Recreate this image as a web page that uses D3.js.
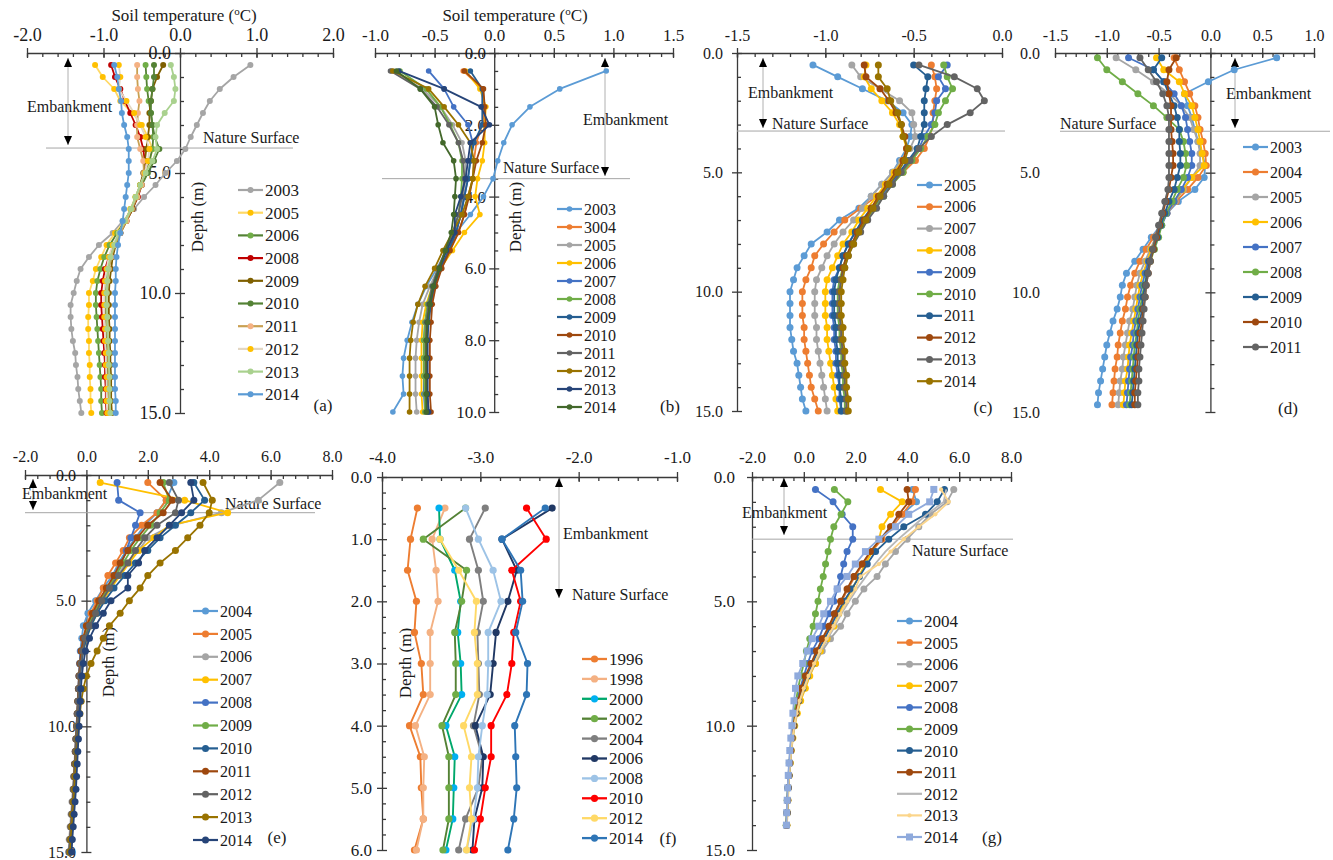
<!DOCTYPE html>
<html>
<head>
<meta charset="utf-8">
<script src="https://cdn.jsdelivr.net/npm/d3@7"></script>
<style>
  body { margin: 0; background: #fff; }
  svg { display: block; font-family: "Liberation Serif", "Times New Roman", serif; }
</style>
</head>
<body>
<div id="chart"></div>
<script>
// ---- data: depth (m) and soil temperature (oC) per year ----

// (a)
var depthA = [0.5,1,1.5,2,2.5,3,3.5,4,4.5,5,5.5,6,6.5,7,7.5,8,8.5,9,9.5,10,10.5,11,11.5,12,12.5,13,13.5,14,14.5,15];
var yearsA = ["2003","2005","2006","2008","2009","2010","2011","2012","2013","2014"];
var tempA = [
  [0.92,0.70,0.52,0.39,0.30,0.22,0.14,0.07,-0.04,-0.19,-0.32,-0.47,-0.60,-0.75,-0.88,-1.06,-1.19,-1.30,-1.35,-1.39,-1.43,-1.43,-1.42,-1.40,-1.37,-1.36,-1.34,-1.33,-1.31,-1.29],
  [-1.11,-1.01,-0.86,-0.78,-0.62,-0.50,-0.42,-0.36,-0.40,-0.45,-0.52,-0.58,-0.65,-0.72,-0.85,-0.96,-1.03,-1.10,-1.14,-1.19,-1.19,-1.20,-1.20,-1.19,-1.19,-1.18,-1.18,-1.17,-1.17,-1.16],
  [-0.45,-0.44,-0.43,-0.41,-0.38,-0.36,-0.35,-0.36,-0.40,-0.47,-0.52,-0.58,-0.64,-0.72,-0.82,-0.92,-0.99,-1.04,-1.08,-1.10,-1.10,-1.09,-1.08,-1.07,-1.06,-1.05,-1.04,-1.03,-1.03,-1.02],
  [-0.90,-0.85,-0.78,-0.72,-0.65,-0.58,-0.52,-0.48,-0.46,-0.47,-0.50,-0.55,-0.62,-0.70,-0.78,-0.86,-0.93,-0.98,-1.01,-1.03,-1.03,-1.02,-1.01,-1.00,-0.99,-0.98,-0.98,-0.97,-0.97,-0.96],
  [-0.22,-0.30,-0.36,-0.38,-0.40,-0.40,-0.42,-0.44,-0.46,-0.48,-0.52,-0.56,-0.62,-0.70,-0.78,-0.84,-0.88,-0.90,-0.92,-0.93,-0.93,-0.93,-0.92,-0.92,-0.91,-0.91,-0.90,-0.90,-0.90,-0.89],
  [-0.34,-0.34,-0.36,-0.38,-0.38,-0.36,-0.33,-0.27,-0.34,-0.42,-0.50,-0.56,-0.63,-0.71,-0.78,-0.85,-0.90,-0.94,-0.96,-0.97,-0.97,-0.97,-0.96,-0.96,-0.95,-0.95,-0.94,-0.94,-0.93,-0.93],
  [-0.56,-0.56,-0.55,-0.53,-0.55,-0.56,-0.56,-0.52,-0.48,-0.47,-0.50,-0.56,-0.63,-0.70,-0.78,-0.85,-0.90,-0.93,-0.95,-0.96,-0.96,-0.96,-0.95,-0.95,-0.94,-0.94,-0.93,-0.93,-0.93,-0.92],
  [-0.80,-0.78,-0.80,-0.70,-0.60,-0.52,-0.45,-0.40,-0.42,-0.46,-0.52,-0.58,-0.64,-0.72,-0.80,-0.88,-0.93,-0.96,-0.98,-0.99,-0.99,-0.99,-0.98,-0.98,-0.97,-0.97,-0.96,-0.96,-0.96,-0.95],
  [-0.12,-0.08,-0.06,-0.08,-0.20,-0.30,-0.32,-0.30,-0.36,-0.45,-0.52,-0.58,-0.64,-0.72,-0.80,-0.86,-0.91,-0.94,-0.95,-0.96,-0.96,-0.95,-0.95,-0.94,-0.93,-0.93,-0.92,-0.92,-0.92,-0.91],
  [-0.86,-0.82,-0.80,-0.77,-0.76,-0.73,-0.69,-0.67,-0.67,-0.67,-0.69,-0.71,-0.73,-0.75,-0.78,-0.81,-0.83,-0.84,-0.84,-0.85,-0.85,-0.85,-0.85,-0.85,-0.85,-0.85,-0.85,-0.85,-0.84,-0.84]
];

// (b)
var depthB = [0.5,1,1.5,2,2.5,3,3.5,4,4.5,5,5.5,6,6.5,7,7.5,8,8.5,9,9.5,10];
var yearsB = ["2003","3004","2005","2006","2007","2008","2009","2010","2011","2012","2013","2014"];
var tempB = [
  [0.94,0.55,0.30,0.15,0.08,0.03,-0.01,-0.09,-0.20,-0.32,-0.40,-0.48,-0.57,-0.64,-0.69,-0.73,-0.76,-0.77,-0.76,-0.85],
  [-0.26,-0.10,-0.08,-0.10,-0.15,-0.17,-0.18,-0.22,-0.25,-0.30,-0.38,-0.45,-0.50,-0.54,-0.57,-0.58,-0.58,-0.58,-0.58,-0.57],
  [-0.86,-0.60,-0.45,-0.35,-0.27,-0.24,-0.24,-0.26,-0.28,-0.32,-0.40,-0.47,-0.54,-0.60,-0.63,-0.65,-0.66,-0.66,-0.66,-0.65],
  [-0.24,-0.12,-0.07,-0.08,-0.08,-0.10,-0.14,-0.16,-0.12,-0.25,-0.35,-0.45,-0.52,-0.57,-0.60,-0.61,-0.61,-0.61,-0.61,-0.60],
  [-0.55,-0.42,-0.34,-0.22,-0.18,-0.20,-0.22,-0.25,-0.28,-0.32,-0.38,-0.45,-0.51,-0.55,-0.58,-0.59,-0.59,-0.59,-0.59,-0.58],
  [-0.79,-0.57,-0.45,-0.37,-0.30,-0.27,-0.27,-0.28,-0.30,-0.34,-0.40,-0.47,-0.52,-0.56,-0.58,-0.59,-0.59,-0.59,-0.58,-0.58],
  [-0.20,-0.10,-0.10,-0.10,-0.17,-0.20,-0.22,-0.25,-0.28,-0.32,-0.38,-0.45,-0.50,-0.53,-0.55,-0.56,-0.56,-0.56,-0.56,-0.55],
  [-0.25,-0.09,-0.08,-0.07,-0.10,-0.15,-0.18,-0.21,-0.25,-0.30,-0.37,-0.44,-0.49,-0.52,-0.53,-0.54,-0.54,-0.54,-0.54,-0.53],
  [-0.87,-0.62,-0.48,-0.38,-0.30,-0.26,-0.25,-0.27,-0.30,-0.35,-0.41,-0.47,-0.52,-0.55,-0.57,-0.57,-0.57,-0.57,-0.57,-0.56],
  [-0.85,-0.55,-0.42,-0.30,-0.20,-0.17,-0.18,-0.22,-0.27,-0.35,-0.43,-0.50,-0.58,-0.64,-0.68,-0.70,-0.71,-0.71,-0.71,-0.71],
  [-0.80,-0.42,-0.11,-0.04,-0.20,-0.22,-0.24,-0.28,-0.33,-0.33,-0.40,-0.46,-0.51,-0.54,-0.56,-0.56,-0.56,-0.56,-0.56,-0.55],
  [-0.82,-0.62,-0.50,-0.47,-0.43,-0.34,-0.32,-0.33,-0.34,-0.36,-0.41,-0.46,-0.51,-0.54,-0.56,-0.57,-0.57,-0.57,-0.57,-0.57]
];

// (c)
var depthC = [0.5,1,1.5,2,2.5,3,3.5,4,4.5,5,5.5,6,6.5,7,7.5,8,8.5,9,9.5,10,10.5,11,11.5,12,12.5,13,13.5,14,14.5,15];
var yearsC = ["2005","2006","2007","2008","2009","2010","2011","2012","2013","2014"];
var tempC = [
  [-1.07,-0.93,-0.79,-0.65,-0.56,-0.51,-0.52,-0.54,-0.58,-0.62,-0.68,-0.74,-0.81,-0.92,-0.99,-1.08,-1.12,-1.16,-1.18,-1.20,-1.20,-1.20,-1.20,-1.19,-1.18,-1.16,-1.15,-1.14,-1.13,-1.11],
  [-0.40,-0.38,-0.37,-0.38,-0.39,-0.39,-0.41,-0.44,-0.49,-0.56,-0.63,-0.71,-0.80,-0.89,-0.95,-1.01,-1.06,-1.08,-1.11,-1.13,-1.13,-1.13,-1.12,-1.12,-1.11,-1.10,-1.09,-1.08,-1.06,-1.04],
  [-0.85,-0.80,-0.69,-0.58,-0.51,-0.50,-0.49,-0.52,-0.57,-0.62,-0.68,-0.74,-0.79,-0.84,-0.90,-0.95,-0.99,-1.02,-1.05,-1.06,-1.06,-1.06,-1.05,-1.05,-1.04,-1.03,-1.02,-1.01,-1.00,-0.99],
  [-0.77,-0.78,-0.74,-0.68,-0.62,-0.58,-0.56,-0.54,-0.56,-0.61,-0.66,-0.71,-0.76,-0.81,-0.85,-0.90,-0.93,-0.96,-0.99,-1.00,-1.00,-1.00,-0.99,-0.99,-0.98,-0.97,-0.96,-0.95,-0.94,-0.93],
  [-0.31,-0.36,-0.32,-0.37,-0.38,-0.40,-0.44,-0.47,-0.52,-0.57,-0.63,-0.68,-0.73,-0.78,-0.83,-0.87,-0.90,-0.92,-0.95,-0.96,-0.96,-0.96,-0.95,-0.95,-0.94,-0.94,-0.93,-0.92,-0.92,-0.91],
  [-0.33,-0.31,-0.28,-0.32,-0.36,-0.38,-0.42,-0.46,-0.51,-0.56,-0.62,-0.67,-0.72,-0.77,-0.81,-0.85,-0.88,-0.90,-0.92,-0.93,-0.93,-0.93,-0.92,-0.92,-0.91,-0.91,-0.90,-0.90,-0.89,-0.89],
  [-0.50,-0.42,-0.43,-0.44,-0.44,-0.44,-0.46,-0.48,-0.53,-0.58,-0.64,-0.69,-0.74,-0.79,-0.83,-0.87,-0.90,-0.92,-0.94,-0.95,-0.95,-0.95,-0.94,-0.94,-0.93,-0.93,-0.92,-0.92,-0.91,-0.91],
  [-0.78,-0.77,-0.69,-0.64,-0.60,-0.57,-0.55,-0.54,-0.56,-0.60,-0.65,-0.70,-0.74,-0.78,-0.82,-0.85,-0.88,-0.90,-0.91,-0.92,-0.92,-0.92,-0.91,-0.91,-0.90,-0.90,-0.89,-0.89,-0.88,-0.88],
  [-0.47,-0.27,-0.14,-0.10,-0.18,-0.31,-0.40,-0.47,-0.52,-0.57,-0.62,-0.67,-0.71,-0.76,-0.80,-0.84,-0.87,-0.89,-0.91,-0.92,-0.92,-0.92,-0.91,-0.91,-0.90,-0.90,-0.89,-0.89,-0.88,-0.88],
  [-0.70,-0.70,-0.65,-0.63,-0.59,-0.57,-0.56,-0.53,-0.55,-0.59,-0.64,-0.69,-0.73,-0.77,-0.81,-0.84,-0.87,-0.89,-0.90,-0.91,-0.91,-0.91,-0.90,-0.90,-0.89,-0.89,-0.88,-0.88,-0.87,-0.87]
];

// (d)
var depthD = [0.2,0.7,1.2,1.7,2.2,2.7,3.2,3.7,4.2,4.7,5.2,5.7,6.2,6.7,7.2,7.7,8.2,8.7,9.2,9.7,10.2,10.7,11.2,11.7,12.2,12.7,13.2,13.7,14.2,14.7];
var yearsD = ["2003","2004","2005","2006","2007","2008","2009","2010","2011"];
var tempD = [
  [0.64,0.23,-0.02,-0.25,-0.22,-0.18,-0.15,-0.12,-0.08,-0.05,-0.06,-0.15,-0.31,-0.42,-0.48,-0.57,-0.65,-0.73,-0.81,-0.85,-0.87,-0.90,-0.94,-0.97,-1.00,-1.02,-1.04,-1.06,-1.08,-1.09],
  [-0.35,-0.30,-0.25,-0.20,-0.15,-0.12,-0.10,-0.07,-0.05,-0.04,-0.12,-0.22,-0.33,-0.42,-0.48,-0.55,-0.62,-0.68,-0.73,-0.77,-0.80,-0.82,-0.85,-0.87,-0.89,-0.90,-0.92,-0.93,-0.94,-0.95],
  [-0.91,-0.72,-0.55,-0.40,-0.28,-0.20,-0.16,-0.12,-0.10,-0.10,-0.18,-0.26,-0.34,-0.42,-0.48,-0.53,-0.58,-0.63,-0.68,-0.71,-0.73,-0.75,-0.78,-0.80,-0.82,-0.84,-0.85,-0.87,-0.88,-0.89],
  [-0.52,-0.45,-0.30,-0.25,-0.18,-0.15,-0.12,-0.10,-0.08,-0.06,-0.18,-0.27,-0.35,-0.43,-0.48,-0.52,-0.57,-0.61,-0.65,-0.68,-0.70,-0.72,-0.74,-0.76,-0.78,-0.79,-0.80,-0.82,-0.83,-0.84],
  [-0.79,-0.55,-0.45,-0.35,-0.28,-0.24,-0.22,-0.20,-0.18,-0.18,-0.22,-0.28,-0.35,-0.42,-0.47,-0.51,-0.55,-0.60,-0.63,-0.66,-0.68,-0.70,-0.72,-0.74,-0.75,-0.77,-0.78,-0.79,-0.80,-0.81],
  [-1.09,-1.00,-0.85,-0.70,-0.55,-0.42,-0.30,-0.26,-0.24,-0.23,-0.26,-0.32,-0.37,-0.43,-0.47,-0.50,-0.54,-0.58,-0.61,-0.64,-0.66,-0.68,-0.70,-0.71,-0.73,-0.74,-0.75,-0.76,-0.77,-0.78],
  [-0.47,-0.55,-0.45,-0.40,-0.35,-0.32,-0.30,-0.30,-0.29,-0.29,-0.32,-0.35,-0.40,-0.44,-0.48,-0.51,-0.55,-0.59,-0.61,-0.63,-0.65,-0.66,-0.68,-0.70,-0.71,-0.72,-0.73,-0.74,-0.75,-0.76],
  [-0.33,-0.40,-0.42,-0.40,-0.38,-0.38,-0.38,-0.37,-0.36,-0.36,-0.38,-0.40,-0.43,-0.46,-0.49,-0.52,-0.55,-0.58,-0.60,-0.62,-0.63,-0.65,-0.66,-0.68,-0.69,-0.70,-0.71,-0.72,-0.73,-0.73],
  [-0.68,-0.60,-0.52,-0.46,-0.42,-0.40,-0.40,-0.40,-0.40,-0.40,-0.40,-0.41,-0.44,-0.47,-0.50,-0.53,-0.56,-0.58,-0.60,-0.62,-0.63,-0.64,-0.65,-0.66,-0.67,-0.68,-0.69,-0.69,-0.70,-0.70]
];

// (e)
var depthE = [0.3,1,1.5,2,2.5,3,3.5,4,4.5,5,5.5,6,6.5,7,7.5,8,8.5,9,9.5,10,10.5,11,11.5,12,12.5,13,13.5,14,14.5,15];
var yearsE = ["2004","2005","2006","2007","2008","2009","2010","2011","2012","2013","2014"];
var tempE = [
  [2.85,2.60,2.30,1.90,1.60,1.30,1.05,0.85,0.55,0.30,0.05,-0.10,-0.15,-0.20,-0.22,-0.24,-0.26,-0.27,-0.28,-0.30,-0.32,-0.34,-0.36,-0.38,-0.40,-0.42,-0.45,-0.48,-0.50,-0.53],
  [2.00,2.60,2.30,1.80,1.40,1.20,0.95,0.70,0.55,0.35,0.15,0.00,-0.10,-0.16,-0.20,-0.23,-0.25,-0.26,-0.28,-0.30,-0.32,-0.34,-0.36,-0.38,-0.40,-0.42,-0.45,-0.48,-0.51,-0.54],
  [6.30,5.60,4.40,2.80,2.00,1.70,1.30,1.00,0.75,0.50,0.30,0.10,-0.05,-0.15,-0.20,-0.24,-0.26,-0.28,-0.30,-0.32,-0.35,-0.37,-0.39,-0.42,-0.44,-0.47,-0.50,-0.53,-0.56,-0.58],
  [0.45,3.20,4.60,2.70,2.20,1.70,1.40,1.10,0.80,0.55,0.35,0.15,0.00,-0.10,-0.18,-0.22,-0.25,-0.27,-0.29,-0.31,-0.33,-0.35,-0.37,-0.39,-0.41,-0.43,-0.46,-0.49,-0.52,-0.55],
  [1.00,1.05,1.75,1.60,1.45,1.30,1.15,0.95,0.75,0.50,0.25,0.05,-0.10,-0.18,-0.22,-0.24,-0.26,-0.28,-0.30,-0.32,-0.34,-0.36,-0.38,-0.40,-0.42,-0.44,-0.47,-0.50,-0.53,-0.56],
  [2.50,2.70,2.40,2.10,1.75,1.45,1.20,0.95,0.70,0.45,0.25,0.05,-0.08,-0.16,-0.20,-0.23,-0.25,-0.27,-0.29,-0.31,-0.33,-0.35,-0.37,-0.39,-0.41,-0.43,-0.46,-0.49,-0.52,-0.55],
  [3.50,3.85,3.40,2.90,2.40,2.00,1.60,1.25,0.90,0.60,0.35,0.15,0.00,-0.10,-0.16,-0.20,-0.23,-0.25,-0.27,-0.29,-0.31,-0.33,-0.35,-0.37,-0.39,-0.41,-0.44,-0.47,-0.50,-0.52],
  [2.40,2.80,2.50,2.00,1.65,1.35,1.10,0.90,0.65,0.40,0.20,0.00,-0.10,-0.17,-0.21,-0.24,-0.26,-0.28,-0.30,-0.32,-0.34,-0.36,-0.38,-0.40,-0.42,-0.44,-0.47,-0.50,-0.53,-0.55],
  [2.70,3.00,2.90,2.30,1.90,1.60,1.35,1.05,0.75,0.50,0.30,0.10,-0.05,-0.12,-0.18,-0.22,-0.25,-0.27,-0.29,-0.31,-0.33,-0.35,-0.37,-0.39,-0.42,-0.44,-0.47,-0.50,-0.53,-0.56],
  [3.80,4.10,4.00,3.70,3.30,2.90,2.40,2.00,1.75,1.40,1.10,0.75,0.55,0.35,0.15,0.00,-0.10,-0.17,-0.21,-0.25,-0.28,-0.31,-0.34,-0.37,-0.39,-0.42,-0.45,-0.48,-0.51,-0.53],
  [3.40,3.50,3.10,2.70,2.30,1.90,1.70,1.35,1.35,0.80,0.55,0.30,0.10,-0.03,-0.10,-0.15,-0.18,-0.20,-0.22,-0.24,-0.26,-0.28,-0.30,-0.32,-0.34,-0.37,-0.40,-0.43,-0.46,-0.48]
];

// (f)
var depthF = [0.5,1,1.5,2,2.5,3,3.5,4,4.5,5,5.5,6];
var yearsF = ["1996","1998","2000","2002","2004","2006","2008","2010","2012","2014"];
var tempF = [
  [-3.64,-3.71,-3.74,-3.65,-3.67,-3.60,-3.58,-3.72,-3.61,-3.60,-3.58,-3.67],
  [-3.36,-3.49,-3.45,-3.43,-3.51,-3.51,-3.51,-3.66,-3.57,-3.58,-3.58,-3.65],
  [-3.42,-3.41,-3.26,-3.20,-3.23,-3.20,-3.19,-3.35,-3.26,-3.27,-3.28,-3.35],
  [-3.15,-3.58,-3.14,-3.19,-3.26,-3.25,-3.25,-3.39,-3.32,-3.32,-3.32,-3.38],
  [-2.95,-3.11,-3.02,-2.97,-3.03,-3.02,-3.01,-3.07,-2.98,-3.02,-3.15,-3.22],
  [-2.27,-2.78,-2.63,-2.72,-2.84,-2.87,-2.90,-3.05,-2.97,-2.98,-3.06,-3.08],
  [-3.15,-3.02,-2.87,-2.79,-2.92,-2.92,-2.93,-2.98,-3.02,-3.03,-3.07,-3.14],
  [-2.53,-2.33,-2.68,-2.59,-2.66,-2.68,-2.73,-2.89,-2.89,-2.95,-3.00,-3.06],
  [null,-3.41,-3.22,-3.04,-3.06,-3.03,-3.03,-3.17,-3.09,-3.11,-3.09,-3.14],
  [-2.34,-2.78,-2.59,-2.57,-2.64,-2.52,-2.53,-2.65,-2.64,-2.63,-2.66,-2.72]
];

// (g)
var depthG = [0.5,1,1.5,2,2.5,3,3.5,4,4.5,5,5.5,6,6.5,7,7.5,8,8.5,9,9.5,10,10.5,11,11.5,12,12.5,13,13.5,14];
var yearsG = ["2004","2005","2006","2007","2008","2009","2010","2011","2012","2013","2014"];
var tempG = [
  [4.20,4.35,3.80,3.35,2.95,2.60,2.25,1.95,1.70,1.45,1.20,1.00,0.75,0.50,0.30,0.10,-0.08,-0.22,-0.32,-0.40,-0.46,-0.51,-0.55,-0.58,-0.61,-0.63,-0.65,-0.67],
  [4.31,4.18,3.80,3.41,3.02,2.62,2.28,1.97,1.70,1.45,1.22,1.00,0.76,0.52,0.32,0.12,-0.06,-0.20,-0.31,-0.39,-0.45,-0.50,-0.54,-0.57,-0.60,-0.62,-0.64,-0.66],
  [5.79,5.53,4.89,4.44,3.99,3.54,3.15,2.83,2.32,1.99,1.67,1.42,1.03,0.71,0.45,0.19,0.00,-0.16,-0.28,-0.37,-0.44,-0.49,-0.53,-0.57,-0.60,-0.62,-0.64,-0.66],
  [2.96,3.80,3.35,3.02,2.90,2.64,2.38,2.12,1.87,1.61,1.35,1.16,0.90,0.64,0.45,0.23,0.06,-0.12,-0.25,-0.35,-0.42,-0.48,-0.52,-0.56,-0.59,-0.61,-0.63,-0.65],
  [0.45,1.13,1.48,1.89,1.89,1.67,1.54,1.42,1.29,1.16,0.97,0.77,0.58,0.32,0.15,0.00,-0.14,-0.26,-0.34,-0.41,-0.47,-0.51,-0.55,-0.58,-0.61,-0.63,-0.65,-0.67],
  [1.18,1.70,1.44,1.16,1.03,0.94,0.84,0.75,0.64,0.55,0.45,0.36,0.23,0.10,0.00,-0.12,-0.22,-0.30,-0.37,-0.43,-0.48,-0.52,-0.56,-0.59,-0.62,-0.64,-0.66,-0.68],
  [5.43,5.15,4.70,3.86,3.28,2.77,2.45,2.15,1.85,1.55,1.28,1.05,0.80,0.55,0.34,0.14,-0.04,-0.19,-0.30,-0.38,-0.45,-0.50,-0.54,-0.57,-0.60,-0.62,-0.64,-0.66],
  [3.99,4.05,3.67,3.35,2.96,2.57,2.25,1.93,1.67,1.42,1.18,0.97,0.71,0.49,0.28,0.06,-0.10,-0.22,-0.32,-0.40,-0.46,-0.51,-0.55,-0.58,-0.61,-0.63,-0.65,-0.67],
  [5.50,5.40,4.76,4.20,3.65,3.15,2.75,2.40,2.05,1.75,1.45,1.20,0.92,0.65,0.42,0.20,0.02,-0.15,-0.27,-0.36,-0.43,-0.49,-0.53,-0.57,-0.60,-0.62,-0.64,-0.66],
  [5.30,5.60,5.08,4.44,3.86,3.35,2.90,2.19,1.99,1.67,1.40,1.15,0.88,0.62,0.40,0.18,0.00,-0.16,-0.28,-0.37,-0.44,-0.49,-0.53,-0.57,-0.60,-0.62,-0.64,-0.66],
  [5.02,4.86,4.05,3.54,2.90,2.38,1.99,1.67,1.29,1.03,0.77,0.58,0.32,0.13,-0.04,-0.23,-0.32,-0.38,-0.42,-0.46,-0.50,-0.54,-0.57,-0.60,-0.62,-0.64,-0.66,-0.67]
];

// ---- drawing ----
var fmt = d3.formatLocale({decimal: ".", thousands: ",", grouping: [3], currency: ["", ""], minus: "-"}).format(".1f");

var svg = d3.select("#chart").append("svg")
  .attr("width", 1333)
  .attr("height", 860);

svg.append("defs").append("marker")
  .attr("id", "tri")
  .attr("viewBox", "0 0 9 8")
  .attr("refX", 9).attr("refY", 4)
  .attr("markerWidth", 9).attr("markerHeight", 8)
  .attr("markerUnits", "userSpaceOnUse")
  .attr("orient", "auto-start-reverse")
  .append("path").attr("d", "M0,0 L9,4 L0,8 Z").attr("fill", "#000");

function steps(a, b, s) {
  var n = Math.round((b - a) / s);
  return d3.range(n + 1).map(function(i) { return +(a + i * s).toFixed(4); });
}

// draw a single mark (circle / square / small / none)
function mark(sel, shape, cx, cy, r, fill) {
  if (shape === "none") return;
  if (shape === "sq") {
    sel.append("rect").attr("x", cx - r).attr("y", cy - r).attr("width", 2 * r).attr("height", 2 * r).attr("fill", fill);
  } else {
    sel.append("circle").attr("cx", cx).attr("cy", cy).attr("r", shape === "small" ? r * 0.6 : r).attr("fill", fill);
  }
}

function panel(p) {
  var g = svg.append("g").style("font-size", p.fs + "px").attr("fill", "#1a1a1a");
  var x = d3.scaleLinear().domain(p.xd).range([p.l, p.r]);
  var y = d3.scaleLinear().domain(p.yd).range([p.t, p.b]);
  var ax = x(p.yAt);
  var axisCol = "#3a3a3a";

  // x axis on top: minor ticks downward, major ticks crossing
  var gm = g.append("g").attr("transform", "translate(0," + p.t + ")")
    .call(d3.axisTop(x).tickValues(steps(p.xd[0], p.xd[1], p.xm)).tickSize(-4).tickSizeOuter(0).tickFormat(""));
  gm.select(".domain").remove();
  var gx = g.append("g").attr("transform", "translate(0," + p.t + ")")
    .call(d3.axisTop(x).tickValues(steps(p.xd[0], p.xd[1], p.xM)).tickSizeInner(5).tickSizeOuter(0).tickPadding(p.xpad).tickFormat(fmt));
  gx.selectAll(".tick line").attr("y1", 5);
  [gm, gx].forEach(function(s) {
    s.attr("font-family", null).attr("font-size", null);
    s.selectAll("line, path").attr("stroke", axisCol).attr("stroke-width", 1.3);
    s.selectAll("text").attr("fill", "#1a1a1a");
  });

  // y axis: minor ticks to the right, majors crossing
  var yMajor = steps(p.yd[0], p.yd[1], p.yM);
  var gy = g.append("g").attr("transform", "translate(" + ax + ",0)")
    .call(d3.axisRight(y).tickValues(steps(p.yd[0], p.yd[1], p.ym)).tickSize(4).tickSizeOuter(0).tickFormat(""));
  gy.selectAll(".tick").filter(function(d) { return yMajor.indexOf(d) >= 0; })
    .select("line").attr("x1", -5).attr("x2", 5);
  gy.selectAll("line, path").attr("stroke", axisCol).attr("stroke-width", 1.3);
  g.append("g").selectAll("text").data(yMajor).join("text")
    .attr("x", p.yl).attr("y", function(d) { return y(d); })
    .attr("dy", "0.35em").attr("text-anchor", "end")
    .text(fmt);

  // titles
  if (p.title) {
    var tt = g.append("text").attr("x", p.title[0]).attr("y", p.title[1]).attr("text-anchor", "middle").style("font-size", "17px");
    tt.append("tspan").text("Soil temperature  (");
    tt.append("tspan").attr("dy", -6).style("font-size", "11px").text("o");
    tt.append("tspan").attr("dy", 6).text("C)");
  }
  if (p.dl) {
    g.append("text").attr("transform", "translate(" + p.dl[0] + "," + p.dl[1] + ") rotate(-90)")
      .attr("text-anchor", "middle").attr("dy", "0.35em").style("font-size", "17px").text("Depth (m)");
  }

  // natural surface line and embankment arrow
  if (p.surf) {
    g.append("line").attr("x1", p.surf[1]).attr("x2", p.surf[2]).attr("y1", y(p.surf[0])).attr("y2", y(p.surf[0]))
      .attr("stroke", "#a6a6a6").attr("stroke-width", 1);
  }
  g.append("line").attr("x1", p.arr[0]).attr("x2", p.arr[0]).attr("y1", p.arr[1]).attr("y2", p.arr[2])
    .attr("stroke", "#b0b0b0").attr("stroke-width", 1)
    .attr("marker-start", "url(#tri)").attr("marker-end", "url(#tri)");
  g.append("text").attr("x", p.emb[0]).attr("y", p.emb[1]).attr("dy", "0.35em").style("font-size", "16px").text("Embankment");
  g.append("text").attr("x", p.nat[0]).attr("y", p.nat[1]).attr("dy", "0.35em").style("font-size", "16px").text("Nature Surface");

  // series
  var line = d3.line()
    .defined(function(d) { return d[1] != null; })
    .x(function(d) { return x(d[1]); })
    .y(function(d) { return y(d[0]); });
  p.years.forEach(function(yr, i) {
    var pts = p.depth.map(function(z, j) { return [z, p.temps[i][j]]; });
    var sg = g.append("g");
    sg.append("path").datum(pts).attr("d", line).attr("fill", "none")
      .attr("stroke", p.lc[i]).attr("stroke-width", p.lw).attr("stroke-linejoin", "round");
    var shape = p.shapes ? p.shapes[i] : "circle";
    pts.filter(function(d) { return d[1] != null; }).forEach(function(d) {
      mark(sg, shape, x(d[1]), y(d[0]), p.mr, p.mc[i]);
    });
  });

  // legend
  var lg = g.append("g").style("font-size", p.lfs + "px");
  p.years.forEach(function(yr, i) {
    var ly = p.leg[1] + i * p.leg[2];
    lg.append("line").attr("x1", p.leg[0]).attr("x2", p.leg[0] + 25).attr("y1", ly).attr("y2", ly)
      .attr("stroke", p.lc[i]).attr("stroke-width", p.lw + 0.4);
    mark(lg, p.shapes ? p.shapes[i] : "circle", p.leg[0] + 12.5, ly, p.mr, p.mc[i]);
    lg.append("text").attr("x", p.leg[0] + 27).attr("y", ly).attr("dy", "0.35em").text(yr);
  });

  g.append("text").attr("x", p.tag[0]).attr("y", p.tag[1]).attr("dy", "0.35em").attr("text-anchor", "middle")
    .style("font-size", "17px").text(p.tag[2]);
}

var pal = ["#5B9BD5","#ED7D31","#A5A5A5","#FFC000","#4472C4","#70AD47","#255E91","#9E480E","#636363","#997300","#264478","#43682B"];

panel({
  l: 27, r: 333, t: 53, b: 413, xd: [-2, 2], yd: [0, 15], xM: 1, xm: 0.2, yM: 5, ym: 1,
  yAt: 0, yl: 171, fs: 18, xpad: 7, title: [184, 21], dl: [197, 217],
  surf: [3.96, 46, 293], arr: [68, 58, 145], emb: [27, 106], nat: [203, 137],
  depth: depthA, years: yearsA, temps: tempA,
  lc: ["#A5A5A5","#FFD966","#548235","#C00000","#7F6000","#548235","#C9A052","#E3D7C3","#A9D18E","#5B9BD5"],
  mc: ["#A5A5A5","#FFC000","#70AD47","#C00000","#7F6000","#548235","#F4B183","#FFC000","#A9D18E","#5B9BD5"],
  lw: 1.8, mr: 3, lfs: 17, leg: [238, 190, 22.7], tag: [323, 405, "(a)"]
});

panel({
  l: 375, r: 673, t: 53, b: 412, xd: [-1, 1.5], yd: [0, 10], xM: 0.5, xm: 0.1, yM: 2, ym: 0.5,
  yAt: 0, yl: 486, fs: 17, xpad: 7, title: [515, 21], dl: [515, 217],
  surf: [3.5, 382, 630], arr: [605, 58, 176], emb: [583, 119], nat: [503, 167],
  depth: depthB, years: yearsB, temps: tempB,
  lc: pal, mc: pal, lw: 1.8, mr: 2.8, lfs: 16, leg: [557, 209, 18], tag: [670, 406, "(b)"]
});

panel({
  l: 737, r: 1002, t: 53, b: 411, xd: [-1.5, 0], yd: [0, 15], xM: 0.5, xm: 0.1, yM: 5, ym: 1,
  yAt: -1.5, yl: 723, fs: 16, xpad: 7,
  surf: [3.27, 737, 1005], arr: [763, 58, 128], emb: [748, 92], nat: [772, 123],
  depth: depthC, years: yearsC, temps: tempC,
  lc: pal, mc: pal, lw: 1.8, mr: 3.5, lfs: 16, leg: [917, 185, 21.8], tag: [983, 407, "(c)"]
});

panel({
  l: 1055, r: 1314, t: 53, b: 412, xd: [-1.5, 1], yd: [0, 15], xM: 0.5, xm: 0.1, yM: 5, ym: 1,
  yAt: 0, yl: 1040, fs: 16, xpad: 7,
  surf: [3.27, 1060, 1330], arr: [1235, 58, 128], emb: [1226, 93], nat: [1060, 123],
  depth: depthD, years: yearsD, temps: tempD,
  lc: pal, mc: pal, lw: 1.8, mr: 3.5, lfs: 16, leg: [1243, 147, 25], tag: [1288, 408, "(d)"]
});

panel({
  l: 25, r: 332, t: 475, b: 852, xd: [-2, 8], yd: [0, 15], xM: 2, xm: 0.4, yM: 5, ym: 1,
  yAt: 0, yl: 76, fs: 16, xpad: 8, dl: [108, 662],
  surf: [1.5, 25, 315], arr: [33, 479, 510], emb: [22, 493], nat: [225, 503],
  depth: depthE, years: yearsE, temps: tempE,
  lc: pal, mc: pal, lw: 1.8, mr: 3.5, lfs: 16, leg: [193, 611, 22.9], tag: [277, 837, "(e)"]
});

panel({
  l: 382, r: 677, t: 477, b: 850, xd: [-4, -1], yd: [0, 6], xM: 1, xm: 0.2, yM: 1, ym: 0.25,
  yAt: -4, yl: 372, fs: 17, xpad: 9, dl: [405, 663],
  arr: [559, 478, 598], emb: [563, 533], nat: [572, 594],
  depth: depthF, years: yearsF, temps: tempF,
  lc: ["#ED7D31","#F4B183","#00A86B","#548235","#7F7F7F","#203864","#9DC3E6","#FF0000","#FFD966","#2E75B6"],
  mc: ["#ED7D31","#F4B183","#00B0F0","#70AD47","#7F7F7F","#203864","#9DC3E6","#FF0000","#FFD966","#2E75B6"],
  lw: 1.9, mr: 3.6, lfs: 17, leg: [582, 659, 19.9], tag: [668, 838, "(f)"]
});

panel({
  l: 752, r: 1011, t: 477, b: 850, xd: [-2, 8], yd: [0, 15], xM: 2, xm: 0.4, yM: 5, ym: 1,
  yAt: -2, yl: 735, fs: 17, xpad: 9,
  surf: [2.5, 752, 1013], arr: [784, 478, 535], emb: [742, 512], nat: [912, 550],
  depth: depthG, years: yearsG, temps: tempG,
  lc: ["#5B9BD5","#ED7D31","#A5A5A5","#FFC000","#4472C4","#70AD47","#255E91","#9E480E","#B7B7B7","#FBD58A","#8FAADC"],
  mc: ["#5B9BD5","#ED7D31","#A5A5A5","#FFC000","#4472C4","#70AD47","#255E91","#9E480E","#B7B7B7","#FBD58A","#8FAADC"],
  shapes: ["circle","circle","circle","circle","circle","circle","circle","circle","none","small","sq"],
  lw: 1.8, mr: 3.5, lfs: 17, leg: [897, 621, 21.6], tag: [992, 837, "(g)"]
});
</script>
</body>
</html>
